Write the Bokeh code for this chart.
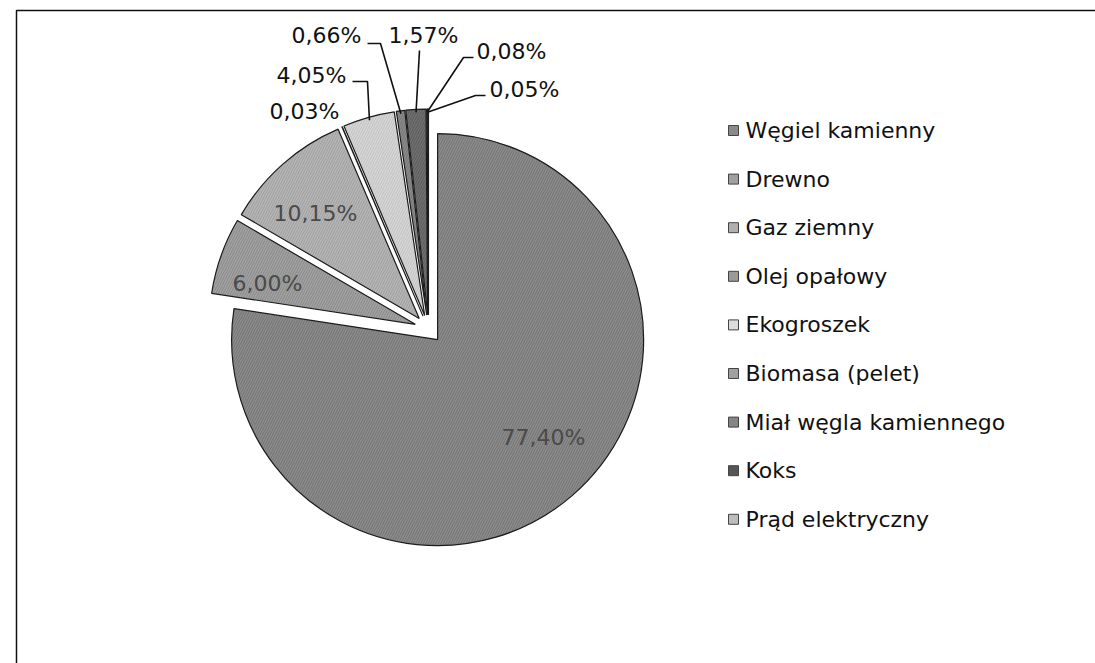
import numpy as np
from bokeh.plotting import figure
from bokeh.models import Range1d, ColumnDataSource, BoxAnnotation
from bokeh.embed import file_html
from bokeh.resources import INLINE
from bokeh.core.properties import value

# ---------------- data ----------------
categories = ["Węgiel kamienny", "Drewno", "Gaz ziemny", "Olej opałowy", "Ekogroszek",
              "Biomasa (pelet)", "Miał węgla kamiennego", "Koks", "Prąd elektryczny"]
shares = [77.40, 6.00, 10.15, 0.03, 4.05, 0.66, 1.57, 0.08, 0.05]
pct_labels = ["77,40%", "6,00%", "10,15%", "0,03%", "4,05%", "0,66%", "1,57%", "0,08%", "0,05%"]

# ---------------- style / layout ----------------
fills = ["#8c8c8c", "#a2a2a2", "#b6b6b6", "#9c9c9c", "#d6d6d6", "#8a8a8a", "#707070", "#3f3f3f", "#c4c4c4"]
hatch_cols = ["#555555", "#6a6a6a", "#808080", "#6e6e6e", "#a8a8a8", "#5a5a5a", "#404040", "#222222", "#909090"]
legend_fills = ["#8a8a8a", "#a0a0a0", "#b0b0b0", "#9a9a9a", "#dcdcdc", "#a0a0a0", "#858585", "#555555", "#bdbdbd"]

W, H = 1095, 663
PAGE_H = 663
OFF = 0               # page offset of the figure
def sy(y):            # screen y (px from top of window) -> data y
    return PAGE_H - y

CX, CY = 428.0, 328.5   # pie centre (screen px)
R = 206.0
EXPLODE = 14.0
FONT = value("DejaVu Sans")
FS = "22px"

# inside label positions (screen)
inside_idx = [0, 1, 2]
inside_pos = [(543, 437), (267, 283), (315, 213)]
# outside label positions (screen)
outside_idx = [3, 4, 5, 6, 7, 8]
outside_pos = [(304, 111), (311, 75), (326, 35), (423, 35), (511, 51), (524, 89)]
# leader elbow points (screen) for outside labels with leaders
leader_idx = [4, 5, 6, 7, 8]
leader_pts = [[(352, 81), (367, 81)],
              [(367, 43), (380, 43)],
              [(419, 50)],
              [(473, 57), (463, 57)],
              [(485, 95), (475, 95)]]

LEG_X, LEG_Y0, LEG_DY = 733, 130, 48.6

# ---------------- geometry ----------------
vals = np.array(shares, dtype=float)
frac = vals / vals.sum()
cum = np.cumsum(frac)
start = np.pi / 2 - 2 * np.pi * (cum - frac)
end = np.pi / 2 - 2 * np.pi * cum
mid = (start + end) / 2
cx = CX + EXPLODE * np.cos(mid)
cy = sy(CY) + EXPLODE * np.sin(mid)

p = figure(width=W, height=H, output_backend="svg", toolbar_location=None,
           x_range=Range1d(OFF, OFF + W), y_range=Range1d(PAGE_H - OFF - H, PAGE_H - OFF),
           min_border=0, x_axis_location=None, y_axis_location=None)
p.grid.visible = False
p.outline_line_color = None
p.background_fill_color = "white"
p.border_fill_color = "white"

src = ColumnDataSource(dict(x=cx, y=cy, start=start, end=end, fill=fills, hc=hatch_cols,
                            name=categories))
p.wedge(x="x", y="y", radius=R, start_angle="start", end_angle="end", direction="clock",
        source=src, fill_color="fill", line_color="#1c1c1c", line_width=1.2,
        hatch_pattern="/", hatch_color="hc", hatch_alpha=0.45, hatch_scale=5, hatch_weight=1)

# inside labels
p.text(x=[inside_pos[k][0] for k in range(len(inside_idx))],
       y=[sy(inside_pos[k][1]) for k in range(len(inside_idx))],
       text=[pct_labels[i] for i in inside_idx],
       text_font=FONT, text_font_size=FS, text_color="#4a4a4a",
       text_align="center", text_baseline="middle")

# outside labels
p.text(x=[pt[0] for pt in outside_pos], y=[sy(pt[1]) for pt in outside_pos],
       text=[pct_labels[i] for i in outside_idx],
       text_font=FONT, text_font_size=FS, text_color="#111111",
       text_align="center", text_baseline="middle")

# leader lines: elbows -> slice edge at mid angle
xs, ys = [], []
for i, pts in zip(leader_idx, leader_pts):
    ex = cx[i] + (R - 3) * np.cos(mid[i])
    ey = cy[i] + (R - 3) * np.sin(mid[i])
    xs.append([q[0] for q in pts] + [ex])
    ys.append([sy(q[1]) for q in pts] + [ey])
p.multi_line(xs=xs, ys=ys, line_color="#111111", line_width=1.6)

# legend (manual)
n = len(categories)
ly = [sy(LEG_Y0 + LEG_DY * k) for k in range(n)]
p.rect(x=[LEG_X] * n, y=ly, width=10, height=10, fill_color=legend_fills,
       line_color="#444444", line_width=1)
p.text(x=[LEG_X + 12] * n, y=ly, text=categories, text_font=FONT, text_font_size=FS,
       text_color="#111111", text_align="left", text_baseline="middle")

# scanned chart frame: only top and left edges visible
p.add_layout(BoxAnnotation(left=16, top=sy(10), right=OFF + W + 20, bottom=PAGE_H - OFF - H - 20,
                           fill_color=None, fill_alpha=0, line_color="#111111",
                           line_alpha=1.0, line_width=1.5))

open("out.html", "w").write(file_html(p, INLINE))
